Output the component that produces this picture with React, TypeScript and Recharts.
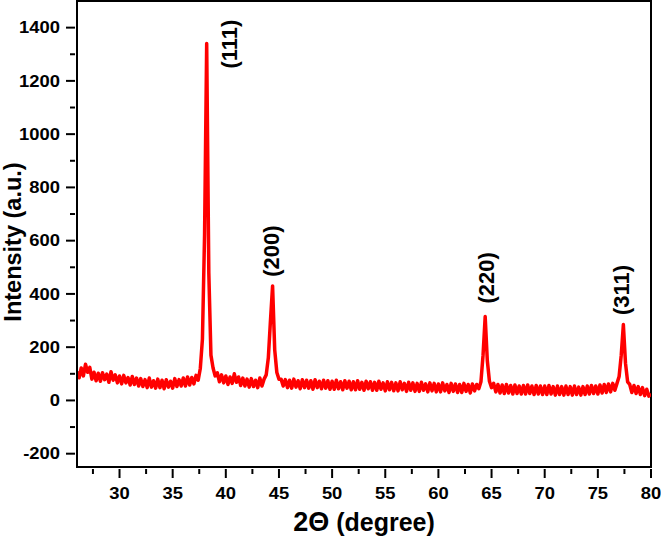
import React from 'react';
import { LineChart, Line, XAxis, YAxis, ReferenceDot, ReferenceArea, Label } from 'recharts';

const START_ANGLE = 26;
const STEP = 0.2;

// Intensity (a.u.) sampled every 0.2 degree from 26.0 to 80.0
const intensity: number[] = [
  108, 85, 122, 92, 136, 106, 124, 80, 106, 74, // 26.0
  102, 72, 104, 78, 99, 68, 108, 76, 96, 66, // 28.0
  92, 62, 94, 66, 86, 58, 90, 60, 84, 54, // 30.0
  82, 52, 78, 48, 84, 50, 74, 46, 80, 48, // 32.0
  76, 44, 78, 50, 72, 46, 82, 52, 78, 54, // 34.0
  84, 54, 88, 58, 86, 62, 94, 76, 120, 230, // 36.0
  620, 1340, 480, 170, 122, 92, 104, 70, 96, 66, // 38.0
  92, 60, 88, 64, 100, 68, 88, 56, 84, 54, // 40.0
  80, 50, 82, 52, 76, 48, 84, 54, 80, 96, // 42.0
  160, 300, 430, 190, 105, 80, 80, 54, 78, 48, // 44.0
  76, 46, 80, 50, 74, 44, 78, 48, 76, 46, // 46.0
  74, 42, 78, 48, 72, 44, 76, 46, 74, 42, // 48.0
  72, 42, 76, 44, 70, 40, 74, 46, 72, 40, // 50.0
  70, 40, 74, 42, 68, 38, 72, 44, 70, 38, // 52.0
  68, 38, 72, 42, 66, 36, 70, 40, 68, 36, // 54.0
  66, 36, 70, 40, 64, 34, 68, 38, 66, 34, // 56.0
  64, 34, 68, 38, 62, 32, 66, 36, 64, 32, // 58.0
  62, 32, 66, 36, 60, 30, 64, 34, 62, 30, // 60.0
  60, 30, 64, 34, 60, 28, 62, 36, 60, 44, // 62.0
  70, 170, 315, 150, 72, 48, 64, 32, 60, 28, // 64.0
  58, 26, 60, 28, 56, 24, 58, 26, 54, 24, // 66.0
  56, 24, 58, 26, 54, 22, 56, 24, 54, 22, // 68.0
  54, 22, 56, 24, 52, 20, 54, 22, 52, 20, // 70.0
  54, 22, 52, 20, 54, 22, 50, 20, 52, 22, // 72.0
  54, 24, 56, 26, 54, 24, 58, 28, 60, 30, // 74.0
  62, 32, 64, 38, 64, 90, 170, 285, 140, 70, // 76.0
  60, 30, 56, 26, 52, 22, 48, 18, 42, 16, // 78.0
  25, // 80.0
];

const xMajorTicks = [30, 35, 40, 45, 50, 55, 60, 65, 70, 75, 80];
const xMinorTicks = [27.5, 32.5, 37.5, 42.5, 47.5, 52.5, 57.5, 62.5, 67.5, 72.5, 77.5];
const yMajorTicks = [-200, 0, 200, 400, 600, 800, 1000, 1200, 1400];
const yMinorTicks = [-100, 100, 300, 500, 700, 900, 1100, 1300];
const xDomain = [26, 80];
const yDomain = [-250, 1500];

const peakNames = ['(111)', '(200)', '(220)', '(311)'];
const peakLabelAngle = [40.55, 44.44, 64.66, 77.37];
const peakLabelIntensity = [1338, 561, 460, 415];

const data = intensity.map((v, i) => ({
  angle: Math.round((START_ANGLE + i * STEP) * 10) / 10,
  intensity: v,
}));

const FONT = '"Liberation Sans", Arial, sans-serif';

const XTick = (props: any) => {
  const { x, y, payload } = props;
  const major = xMajorTicks.includes(payload.value);
  return (
    <g>
      <line x1={x} x2={x} y1={y} y2={y + (major ? 9 : 5)} stroke="#000" strokeWidth={2} />
      {major && (
        <text
          transform={`translate(${x},${y + 30}) scale(1.15,1)`}
          textAnchor="middle"
          fontSize={16}
          fontWeight="bold"
          fontFamily={FONT}
          fill="#000"
        >
          {payload.value}
        </text>
      )}
    </g>
  );
};

const YTick = (props: any) => {
  const { x, y, payload } = props;
  const major = yMajorTicks.includes(payload.value);
  return (
    <g>
      <line x1={x} x2={x - (major ? 9 : 5)} y1={y} y2={y} stroke="#000" strokeWidth={2} />
      {major && (
        <text
          transform={`translate(${x - 15},${y + 5.7}) scale(1.15,1)`}
          textAnchor="end"
          fontSize={16}
          fontWeight="bold"
          fontFamily={FONT}
          fill="#000"
        >
          {payload.value}
        </text>
      )}
    </g>
  );
};

const XTitle = (props: any) => {
  const { x, y, width } = props.viewBox;
  return (
    <text x={x + width / 2} y={y + 64} textAnchor="middle" fontWeight="bold" fontFamily={FONT} fill="#000">
      <tspan fontSize={27}>2Θ</tspan>
      <tspan fontSize={25}> (degree)</tspan>
    </text>
  );
};

const YTitle = (props: any) => {
  const { y, height } = props.viewBox;
  return (
    <text
      transform={`translate(21,${y + height / 2 + 8}) rotate(-90)`}
      textAnchor="middle"
      fontSize={23.5}
      fontWeight="bold"
      fontFamily={FONT}
      fill="#000"
    >
      Intensity (a.u.)
    </text>
  );
};

const makePeakLabel = (name: string) => (props: any) => {
  const { cx, cy } = props;
  const fs = 22;
  return (
    <text
      transform={`translate(${cx + 0.26 * fs},${cy}) rotate(-90)`}
      textAnchor="middle"
      fontSize={fs}
      fontWeight="bold"
      fontFamily={FONT}
      fill="#000"
    >
      {name}
    </text>
  );
};

const allXTicks = [...xMinorTicks, ...xMajorTicks].sort((a, b) => a - b);
const allYTicks = [...yMinorTicks, ...yMajorTicks].sort((a, b) => a - b);

export default function App() {
  return (
    <div style={{ position: 'absolute', left: 0, top: 0, background: '#fff' }}>
      <LineChart
        width={661}
        height={538}
        data={data}
        margin={{ top: 1, right: 10, bottom: 0, left: 0 }}
      >
        <XAxis
          type="number"
          dataKey="angle"
          domain={xDomain}
          ticks={allXTicks}
          interval={0}
          tickSize={0}
          tickLine={false}
          tick={(p: any) => <XTick {...p} />}
          axisLine={{ stroke: '#000', strokeWidth: 2 }}
          height={71}
          allowDataOverflow
        >
          <Label content={XTitle} />
        </XAxis>
        <YAxis
          type="number"
          domain={yDomain}
          ticks={allYTicks}
          interval={0}
          tickSize={0}
          tickLine={false}
          tick={(p: any) => <YTick {...p} />}
          axisLine={{ stroke: '#000', strokeWidth: 2 }}
          width={77}
          allowDataOverflow
        >
          <Label content={YTitle} />
        </YAxis>
        <ReferenceArea
          x1={xDomain[0]}
          x2={xDomain[1]}
          y1={yDomain[0]}
          y2={yDomain[1]}
          fill="none"
          fillOpacity={0}
          stroke="#000"
          strokeWidth={2}
          strokeOpacity={1}
          ifOverflow="visible"
        />
        <Line
          type="linear"
          dataKey="intensity"
          stroke="#ff0000"
          strokeWidth={3.5}
          strokeLinejoin="round"
          dot={false}
          isAnimationActive={false}
        />
        {peakNames.map((name, i) => (
          <ReferenceDot
            key={name}
            x={peakLabelAngle[i]}
            y={peakLabelIntensity[i]}
            r={0}
            ifOverflow="visible"
            shape={makePeakLabel(name)}
          />
        ))}
      </LineChart>
    </div>
  );
}
